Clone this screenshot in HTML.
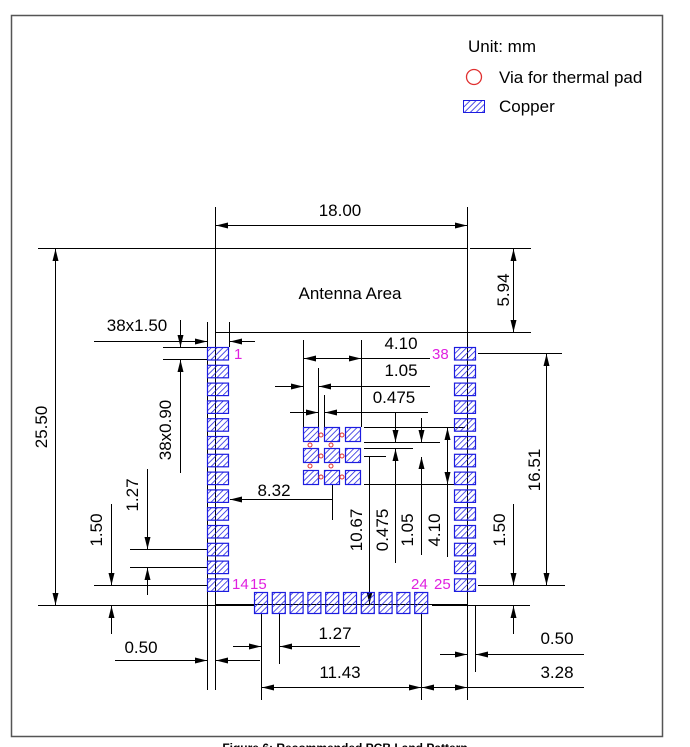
<!DOCTYPE html>
<html><head><meta charset="utf-8"><style>
html,body{margin:0;padding:0;background:#fff;}
svg{display:block;font-family:"Liberation Sans",Arial,sans-serif;}
</style></head><body>
<svg width="690" height="747" viewBox="0 0 690 747" xmlns="http://www.w3.org/2000/svg">
<defs>
<pattern id="h" patternUnits="userSpaceOnUse" width="4.2" height="4.2" patternTransform="rotate(45)">
<line x1="0" y1="0" x2="0" y2="4.2" stroke="#1c1ce0" stroke-width="1.5"/>
</pattern>
<marker id="a" viewBox="0 0 12 6" refX="12" refY="3" markerWidth="12" markerHeight="6" markerUnits="userSpaceOnUse" orient="auto-start-reverse">
<path d="M0,0 L12,3 L0,6 z" fill="#000"/>
</marker>
</defs>
<rect x="11.5" y="15.5" width="651" height="721" fill="none" stroke="#555" stroke-width="1.5"/>
<text x="345" y="752" font-size="12" text-anchor="middle" font-weight="bold">Figure 6: Recommended PCB Land Pattern</text>

<g font-size="17">
<text x="468" y="52">Unit: mm</text>
<circle cx="474" cy="77" r="7.5" fill="none" stroke="#e03030" stroke-width="1.3"/>
<text x="499" y="83">Via for thermal pad</text>
<rect x="463.5" y="100.5" width="21" height="12" fill="url(#h)" stroke="#1c1ce0"/>
<text x="499" y="112">Copper</text>
</g>

<g stroke="#000" stroke-width="1" fill="none">
<rect x="215.5" y="248.5" width="252" height="356"/>
<line x1="215" y1="332.5" x2="467" y2="332.5"/>
<line x1="215.5" y1="207" x2="215.5" y2="248"/>
<line x1="467.5" y1="207" x2="467.5" y2="248"/>
<line x1="216" y1="225.5" x2="467" y2="225.5" marker-start="url(#a)" marker-end="url(#a)"/>
<line x1="38" y1="248.5" x2="215" y2="248.5"/>
<line x1="38" y1="605.5" x2="255" y2="605.5"/>
<line x1="55.5" y1="249" x2="55.5" y2="605" marker-start="url(#a)" marker-end="url(#a)"/>
<line x1="470" y1="248.5" x2="531" y2="248.5"/>
<line x1="467" y1="332.5" x2="531" y2="332.5"/>
<line x1="513.5" y1="249" x2="513.5" y2="332" marker-start="url(#a)" marker-end="url(#a)"/>
<line x1="207.5" y1="322" x2="207.5" y2="690"/>
<line x1="229.5" y1="322" x2="229.5" y2="347"/>
<line x1="94" y1="341.5" x2="207" y2="341.5" marker-end="url(#a)"/>
<line x1="255" y1="341.5" x2="230" y2="341.5" marker-end="url(#a)"/>
<line x1="215.5" y1="605" x2="215.5" y2="690"/>
<line x1="163" y1="347.5" x2="207" y2="347.5"/>
<line x1="163" y1="359.5" x2="207" y2="359.5"/>
<line x1="180.5" y1="320" x2="180.5" y2="347" marker-end="url(#a)"/>
<line x1="180.5" y1="473" x2="180.5" y2="360" marker-end="url(#a)"/>
<line x1="130" y1="549.5" x2="207" y2="549.5"/>
<line x1="130" y1="567.5" x2="207" y2="567.5"/>
<line x1="147.5" y1="469" x2="147.5" y2="549" marker-end="url(#a)"/>
<line x1="147.5" y1="595" x2="147.5" y2="568" marker-end="url(#a)"/>
<line x1="94" y1="585.5" x2="207" y2="585.5"/>
<line x1="111.5" y1="504" x2="111.5" y2="585" marker-end="url(#a)"/>
<line x1="111.5" y1="634" x2="111.5" y2="606" marker-end="url(#a)"/>
<line x1="115" y1="660.5" x2="207" y2="660.5" marker-end="url(#a)"/>
<line x1="260" y1="660.5" x2="216" y2="660.5" marker-end="url(#a)"/>
<line x1="332" y1="499.5" x2="230" y2="499.5" marker-end="url(#a)"/>
<line x1="332.5" y1="485" x2="332.5" y2="520"/>
<line x1="303.5" y1="340" x2="303.5" y2="427"/>
<line x1="361.5" y1="340" x2="361.5" y2="427"/>
<line x1="318.5" y1="368" x2="318.5" y2="427"/>
<line x1="324.5" y1="395" x2="324.5" y2="427"/>
<line x1="304" y1="358.5" x2="361" y2="358.5" marker-start="url(#a)" marker-end="url(#a)"/>
<line x1="361" y1="358.5" x2="430" y2="358.5"/>
<line x1="275" y1="386.5" x2="303" y2="386.5" marker-end="url(#a)"/>
<line x1="355" y1="386.5" x2="319" y2="386.5" marker-end="url(#a)"/>
<line x1="355" y1="386.5" x2="430" y2="386.5"/>
<line x1="290" y1="412.5" x2="318" y2="412.5" marker-end="url(#a)"/>
<line x1="358" y1="412.5" x2="325" y2="412.5" marker-end="url(#a)"/>
<line x1="358" y1="412.5" x2="428" y2="412.5"/>
<line x1="364" y1="427.5" x2="465" y2="427.5"/>
<line x1="364" y1="442.5" x2="440" y2="442.5"/>
<line x1="364" y1="448.5" x2="413" y2="448.5"/>
<line x1="364" y1="456.5" x2="386" y2="456.5"/>
<line x1="364" y1="484.5" x2="465" y2="484.5"/>
<line x1="369.5" y1="456" x2="369.5" y2="604" marker-end="url(#a)"/>
<line x1="395.5" y1="413" x2="395.5" y2="442" marker-end="url(#a)"/>
<line x1="395.5" y1="563" x2="395.5" y2="449" marker-end="url(#a)"/>
<line x1="421.5" y1="418" x2="421.5" y2="442" marker-end="url(#a)"/>
<line x1="421.5" y1="555" x2="421.5" y2="457" marker-end="url(#a)"/>
<line x1="447.5" y1="484" x2="447.5" y2="428" marker-end="url(#a)"/>
<line x1="447.5" y1="428" x2="447.5" y2="484" marker-end="url(#a)"/>
<line x1="447.5" y1="484" x2="447.5" y2="557"/>
<line x1="478" y1="353.5" x2="562" y2="353.5"/>
<line x1="478" y1="585.5" x2="565" y2="585.5"/>
<line x1="546.5" y1="354" x2="546.5" y2="585" marker-start="url(#a)" marker-end="url(#a)"/>
<line x1="432" y1="605.5" x2="530" y2="605.5"/>
<line x1="513.5" y1="504" x2="513.5" y2="585" marker-end="url(#a)"/>
<line x1="513.5" y1="634" x2="513.5" y2="606" marker-end="url(#a)"/>
<line x1="467.5" y1="605" x2="467.5" y2="700"/>
<line x1="475.5" y1="605" x2="475.5" y2="672"/>
<line x1="440" y1="654.5" x2="467" y2="654.5" marker-end="url(#a)"/>
<line x1="584" y1="654.5" x2="476" y2="654.5" marker-end="url(#a)"/>
<line x1="421" y1="687.5" x2="467" y2="687.5" marker-end="url(#a)"/>
<line x1="584" y1="687.5" x2="468" y2="687.5"/>
<line x1="261.5" y1="613" x2="261.5" y2="700"/>
<line x1="279.5" y1="613" x2="279.5" y2="664"/>
<line x1="421.5" y1="613" x2="421.5" y2="700"/>
<line x1="233" y1="646.5" x2="261" y2="646.5" marker-end="url(#a)"/>
<line x1="360" y1="646.5" x2="280" y2="646.5" marker-end="url(#a)"/>
<line x1="262" y1="687.5" x2="421" y2="687.5" marker-start="url(#a)" marker-end="url(#a)"/>
<line x1="438" y1="687.5" x2="422" y2="687.5" marker-end="url(#a)"/>
</g>

<g stroke="#1c1ce0" stroke-width="1.2" fill="url(#h)">
<rect x="207.5" y="347.5" width="21" height="12.5"/>
<rect x="207.5" y="365.3" width="21" height="12.5"/>
<rect x="207.5" y="383.1" width="21" height="12.5"/>
<rect x="207.5" y="400.9" width="21" height="12.5"/>
<rect x="207.5" y="418.7" width="21" height="12.5"/>
<rect x="207.5" y="436.5" width="21" height="12.5"/>
<rect x="207.5" y="454.3" width="21" height="12.5"/>
<rect x="207.5" y="472.1" width="21" height="12.5"/>
<rect x="207.5" y="489.9" width="21" height="12.5"/>
<rect x="207.5" y="507.7" width="21" height="12.5"/>
<rect x="207.5" y="525.5" width="21" height="12.5"/>
<rect x="207.5" y="543.3" width="21" height="12.5"/>
<rect x="207.5" y="561.1" width="21" height="12.5"/>
<rect x="207.5" y="578.9" width="21" height="12.5"/>
<rect x="454.5" y="347.5" width="21" height="12.5"/>
<rect x="454.5" y="365.3" width="21" height="12.5"/>
<rect x="454.5" y="383.1" width="21" height="12.5"/>
<rect x="454.5" y="400.9" width="21" height="12.5"/>
<rect x="454.5" y="418.7" width="21" height="12.5"/>
<rect x="454.5" y="436.5" width="21" height="12.5"/>
<rect x="454.5" y="454.3" width="21" height="12.5"/>
<rect x="454.5" y="472.1" width="21" height="12.5"/>
<rect x="454.5" y="489.9" width="21" height="12.5"/>
<rect x="454.5" y="507.7" width="21" height="12.5"/>
<rect x="454.5" y="525.5" width="21" height="12.5"/>
<rect x="454.5" y="543.3" width="21" height="12.5"/>
<rect x="454.5" y="561.1" width="21" height="12.5"/>
<rect x="454.5" y="578.9" width="21" height="12.5"/>
<rect x="254.5" y="592.5" width="13" height="21"/>
<rect x="272.3" y="592.5" width="13" height="21"/>
<rect x="290.1" y="592.5" width="13" height="21"/>
<rect x="307.9" y="592.5" width="13" height="21"/>
<rect x="325.7" y="592.5" width="13" height="21"/>
<rect x="343.5" y="592.5" width="13" height="21"/>
<rect x="361.3" y="592.5" width="13" height="21"/>
<rect x="379.1" y="592.5" width="13" height="21"/>
<rect x="396.9" y="592.5" width="13" height="21"/>
<rect x="414.7" y="592.5" width="13" height="21"/>
<rect x="303.5" y="427.5" width="15" height="14"/>
<rect x="324.5" y="427.5" width="15" height="14"/>
<rect x="345.5" y="427.5" width="15" height="14"/>
<rect x="303.5" y="448.5" width="15" height="14"/>
<rect x="324.5" y="448.5" width="15" height="14"/>
<rect x="345.5" y="448.5" width="15" height="14"/>
<rect x="303.5" y="470.5" width="15" height="14"/>
<rect x="324.5" y="470.5" width="15" height="14"/>
<rect x="345.5" y="470.5" width="15" height="14"/>
</g>
<g fill="none" stroke="#e03030" stroke-width="1">
<circle cx="321" cy="435" r="2"/><circle cx="342" cy="435" r="2"/>
<circle cx="310" cy="445" r="2"/><circle cx="331" cy="445" r="2"/>
<circle cx="321" cy="456" r="2"/><circle cx="342" cy="456" r="2"/>
<circle cx="310" cy="466" r="2"/><circle cx="331" cy="466" r="2"/>
<circle cx="321" cy="477" r="2"/><circle cx="342" cy="477" r="2"/>
</g>

<g fill="#e020e0" font-size="15">
<text x="234" y="359">1</text>
<text x="432" y="359">38</text>
<text x="232" y="589">14</text>
<text x="250" y="589">15</text>
<text x="411" y="589">24</text>
<text x="434" y="589">25</text>
</g>

<g font-size="17" fill="#000">
<text x="340" y="216" text-anchor="middle">18.00</text>
<text x="350" y="299" text-anchor="middle">Antenna Area</text>
<text x="137" y="331" text-anchor="middle">38x1.50</text>
<text x="401" y="349" text-anchor="middle">4.10</text>
<text x="401" y="376" text-anchor="middle">1.05</text>
<text x="394" y="403" text-anchor="middle">0.475</text>
<text x="274" y="496" text-anchor="middle">8.32</text>
<text x="335" y="639" text-anchor="middle">1.27</text>
<text x="141" y="653" text-anchor="middle">0.50</text>
<text x="340" y="678" text-anchor="middle">11.43</text>
<text x="557" y="644" text-anchor="middle">0.50</text>
<text x="557" y="678" text-anchor="middle">3.28</text>
<text transform="translate(47,427) rotate(-90)" text-anchor="middle">25.50</text>
<text transform="translate(171,430) rotate(-90)" text-anchor="middle">38x0.90</text>
<text transform="translate(138,495) rotate(-90)" text-anchor="middle">1.27</text>
<text transform="translate(102,530) rotate(-90)" text-anchor="middle">1.50</text>
<text transform="translate(509,290) rotate(-90)" text-anchor="middle">5.94</text>
<text transform="translate(362,530) rotate(-90)" text-anchor="middle">10.67</text>
<text transform="translate(388,530) rotate(-90)" text-anchor="middle">0.475</text>
<text transform="translate(413,530) rotate(-90)" text-anchor="middle">1.05</text>
<text transform="translate(440,530) rotate(-90)" text-anchor="middle">4.10</text>
<text transform="translate(505,530) rotate(-90)" text-anchor="middle">1.50</text>
<text transform="translate(540,470) rotate(-90)" text-anchor="middle">16.51</text>
</g>
</svg>
</body></html>
